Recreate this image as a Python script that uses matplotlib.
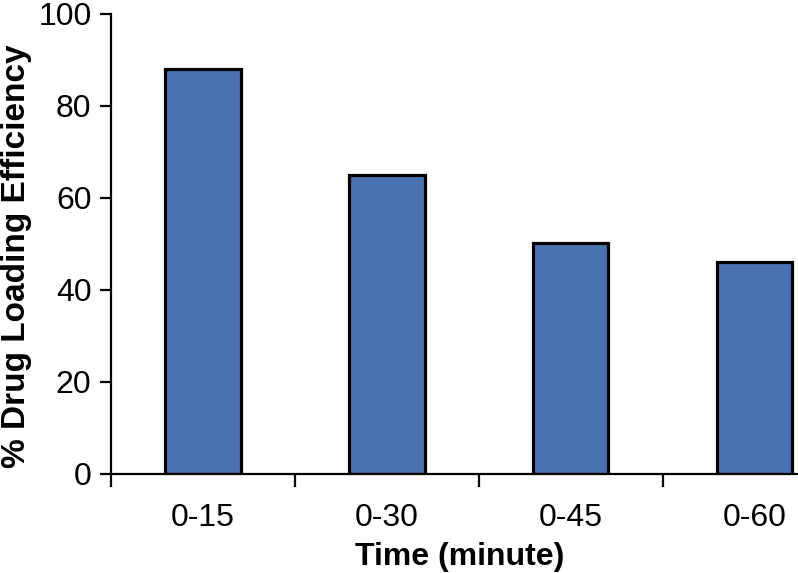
import matplotlib.pyplot as plt
import numpy as np
from matplotlib.ticker import FixedLocator

plt.rcParams["font.family"] = ["Liberation Sans", "DejaVu Sans"]

categories = ["0-15", "0-30", "0-45", "0-60"]
efficiency = [88.0, 65.0, 50.2, 46.0]
y_ticks = [0, 20, 40, 60, 80, 100]

fig = plt.figure(figsize=(7.98, 5.73), dpi=100)
# axes extends past the right edge of the figure, like the clipped original
ax = fig.add_axes([0.139, 0.1728, 0.922, 0.8028])

x = np.arange(len(categories))
ax.bar(x, efficiency, width=0.41, color="#4a72b0", edgecolor="black",
       linewidth=2.3, zorder=2)

ax.set_xlim(-0.5, len(categories) - 0.5)
ax.set_ylim(0, 100)

ax.spines["top"].set_visible(False)
ax.spines["right"].set_visible(False)
for side in ("left", "bottom"):
    ax.spines[side].set_linewidth(1.6)

ax.set_yticks(y_ticks)
ax.tick_params(axis="y", direction="out", length=8, width=1.6,
               labelsize=23, pad=6)

ax.set_xticks(x)
ax.set_xticklabels(categories)
ax.tick_params(axis="x", which="major", length=0, labelsize=23, pad=21)
ax.xaxis.set_minor_locator(FixedLocator(np.arange(-0.5, len(categories), 1.0)))
ax.tick_params(axis="x", which="minor", direction="out", length=9, width=1.6)

ax.set_xlabel("Time (minute)", fontsize=23, fontweight="bold")
ax.set_ylabel("% Drug Loading Efficiency", fontsize=24, fontweight="bold")
ax.xaxis.set_label_coords(0.474, -0.148)
ax.yaxis.set_label_coords(-0.107, 0.474)

fig.savefig("out.png", dpi=100)
